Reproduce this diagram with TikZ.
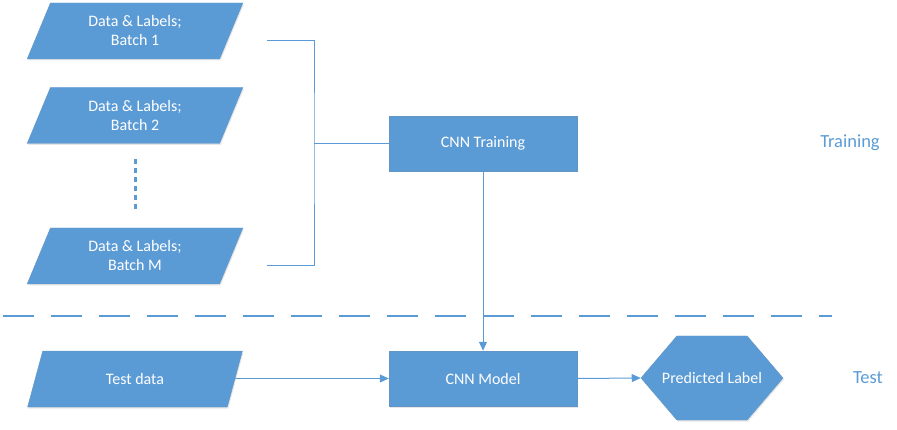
\documentclass[tikz,border=0pt]{standalone}
\usepackage{fontspec}
\setmainfont{Carlito}
\usetikzlibrary{arrows.meta,shapes.geometric,shapes.symbols,shadows}
\definecolor{officeblue}{HTML}{5B9BD5}

\begin{document}
\begin{tikzpicture}[x=1pt,y=-1pt,
    box/.style={fill=officeblue,draw=officeblue!80!gray,line width=0.4pt,text=white,align=center,
      font=\fontsize{16}{19}\selectfont,drop shadow={shadow xshift=1pt,shadow yshift=-1.5pt,opacity=0.2}},
    dataset/.style={box,trapezium,trapezium left angle=67,trapezium right angle=113,
      trapezium stretches=true,minimum width=216pt,minimum height=56pt,inner sep=0pt},
    block/.style={box,rectangle,minimum width=188pt,minimum height=55pt},
    result/.style={box,signal,signal to=west and east,signal pointer angle=99,
      minimum width=142pt,minimum height=84pt,inner sep=0pt,
      label={[text=white,font=\fontsize{16}{19}\selectfont]center:#1}},
    link/.style={officeblue,line width=1pt},
    arrow/.style={link,-{Triangle[length=9pt,width=8pt]}},
    phase/.style={text=officeblue,font=\fontsize{18.5}{22}\selectfont}]
  \useasboundingbox (0,0) rectangle (897,430);
  % training data batches
  \foreach \n/\y in {1/31,2/115.5,M/256} {
    \node[dataset] (b\n) at (135,\y) {Data \& Labels;\\Batch \n};
  }
  \draw[officeblue,line width=3pt,dash pattern=on 5pt off 4pt] (135,159) -- (135,209);
  \node[block] (train) at (483,143.5) {CNN Training};
  \node[block] (model) at (483,378.5) {CNN Model};
  \node[dataset] (test) at (135,379) {Test data};
  \node[result=Predicted Label] (pred) at (712,378) {};
  \node[phase] (ltrain) at (850,143) {Training};
  \node[phase] (ltest) at (868,378) {Test};
  % bracket into training
  \coordinate (s1) at (267,41);
  \coordinate (sM) at (267,266);
  \coordinate (j) at (314,143.5);
  \draw[link] (s1) -| (j) |- (sM);
  \draw[link] (j) -- (train.west);
  \draw[arrow] (train.south) -- (model.north);
  \draw[arrow] (test.east |- model.west) -- (model.west);
  \draw[arrow] (model.east) -- (pred.west);
  % split between phases
  \draw[officeblue,line width=1.5pt,dash pattern=on 31pt off 17pt] (3,316) -- (832,316);
\end{tikzpicture}
\end{document}
